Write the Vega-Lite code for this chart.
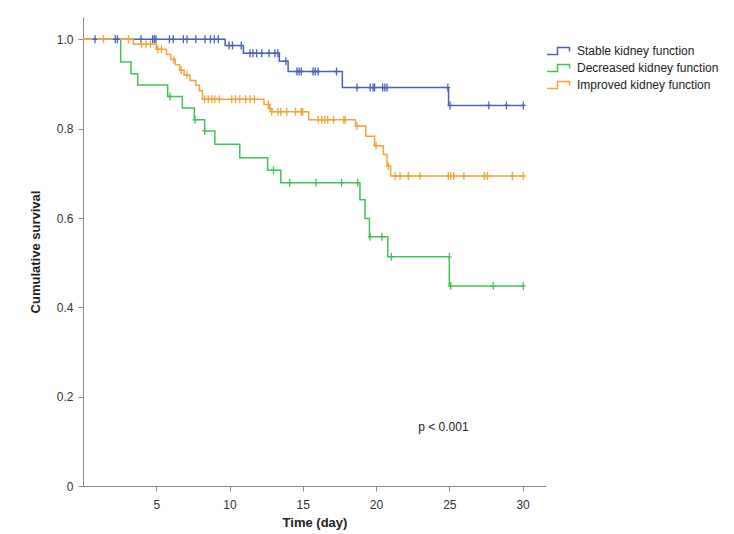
{
  "$schema": "https://vega.github.io/schema/vega-lite/v6.json",
  "width": 463,
  "height": 469,
  "autosize": {"type": "none"},
  "padding": {"left": 83, "top": 17, "right": 188, "bottom": 48},
  "background": "white",
  "config": {
    "view": {"stroke": null},
    "font": "Liberation Sans",
    "axis": {
      "grid": false,
      "domainColor": "#8a8a8a",
      "tickColor": "#8a8a8a",
      "tickSize": 5,
      "labelColor": "#333333",
      "labelFontSize": 12,
      "labelFont": "Liberation Sans",
      "titleFont": "Liberation Sans",
      "titleFontSize": 13,
      "titleFontWeight": "bold",
      "titleColor": "#222222"
    }
  },
  "datasets": {
    "curves": [
      {"g": "Stable kidney function", "t": 0, "s": 1},
      {"g": "Stable kidney function", "t": 9.7, "s": 0.986},
      {"g": "Stable kidney function", "t": 10.95, "s": 0.969},
      {"g": "Stable kidney function", "t": 13.4, "s": 0.951},
      {"g": "Stable kidney function", "t": 14.0, "s": 0.928},
      {"g": "Stable kidney function", "t": 17.7, "s": 0.892},
      {"g": "Stable kidney function", "t": 24.95, "s": 0.852},
      {"g": "Stable kidney function", "t": 30.05, "s": 0.852},
      {"g": "Decreased kidney function", "t": 0, "s": 1},
      {"g": "Decreased kidney function", "t": 2.57, "s": 0.949},
      {"g": "Decreased kidney function", "t": 3.28, "s": 0.923},
      {"g": "Decreased kidney function", "t": 3.73, "s": 0.898},
      {"g": "Decreased kidney function", "t": 5.78, "s": 0.872},
      {"g": "Decreased kidney function", "t": 6.78, "s": 0.846},
      {"g": "Decreased kidney function", "t": 7.6, "s": 0.82},
      {"g": "Decreased kidney function", "t": 8.3, "s": 0.795},
      {"g": "Decreased kidney function", "t": 9.0, "s": 0.765},
      {"g": "Decreased kidney function", "t": 10.7, "s": 0.735},
      {"g": "Decreased kidney function", "t": 12.6, "s": 0.707},
      {"g": "Decreased kidney function", "t": 13.5, "s": 0.679},
      {"g": "Decreased kidney function", "t": 18.9, "s": 0.641},
      {"g": "Decreased kidney function", "t": 19.25, "s": 0.599},
      {"g": "Decreased kidney function", "t": 19.55, "s": 0.558},
      {"g": "Decreased kidney function", "t": 20.8, "s": 0.513},
      {"g": "Decreased kidney function", "t": 25.0, "s": 0.448},
      {"g": "Decreased kidney function", "t": 30.05, "s": 0.448},
      {"g": "Improved kidney function", "t": 0, "s": 1},
      {"g": "Improved kidney function", "t": 3.45, "s": 0.989},
      {"g": "Improved kidney function", "t": 5.0, "s": 0.978},
      {"g": "Improved kidney function", "t": 5.7, "s": 0.966},
      {"g": "Improved kidney function", "t": 6.0, "s": 0.955},
      {"g": "Improved kidney function", "t": 6.3, "s": 0.943},
      {"g": "Improved kidney function", "t": 6.6, "s": 0.931},
      {"g": "Improved kidney function", "t": 6.9, "s": 0.92},
      {"g": "Improved kidney function", "t": 7.3, "s": 0.908},
      {"g": "Improved kidney function", "t": 7.7, "s": 0.897},
      {"g": "Improved kidney function", "t": 7.95, "s": 0.885},
      {"g": "Improved kidney function", "t": 8.15, "s": 0.866},
      {"g": "Improved kidney function", "t": 12.35, "s": 0.854},
      {"g": "Improved kidney function", "t": 12.7, "s": 0.845},
      {"g": "Improved kidney function", "t": 12.9, "s": 0.838},
      {"g": "Improved kidney function", "t": 15.4, "s": 0.82},
      {"g": "Improved kidney function", "t": 18.6, "s": 0.806},
      {"g": "Improved kidney function", "t": 19.3, "s": 0.783},
      {"g": "Improved kidney function", "t": 19.9, "s": 0.762},
      {"g": "Improved kidney function", "t": 20.5, "s": 0.742},
      {"g": "Improved kidney function", "t": 20.75, "s": 0.716},
      {"g": "Improved kidney function", "t": 21.0, "s": 0.694},
      {"g": "Improved kidney function", "t": 30.05, "s": 0.694}
    ],
    "censor": [
      {"g": "Stable kidney function", "t": 0.82, "s": 1},
      {"g": "Stable kidney function", "t": 2.2, "s": 1},
      {"g": "Stable kidney function", "t": 2.35, "s": 1},
      {"g": "Stable kidney function", "t": 3.96, "s": 1},
      {"g": "Stable kidney function", "t": 4.75, "s": 1},
      {"g": "Stable kidney function", "t": 4.87, "s": 1},
      {"g": "Stable kidney function", "t": 4.98, "s": 1},
      {"g": "Stable kidney function", "t": 5.9, "s": 1},
      {"g": "Stable kidney function", "t": 6.16, "s": 1},
      {"g": "Stable kidney function", "t": 6.85, "s": 1},
      {"g": "Stable kidney function", "t": 7.1, "s": 1},
      {"g": "Stable kidney function", "t": 7.7, "s": 1},
      {"g": "Stable kidney function", "t": 8.33, "s": 1},
      {"g": "Stable kidney function", "t": 8.7, "s": 1},
      {"g": "Stable kidney function", "t": 8.96, "s": 1},
      {"g": "Stable kidney function", "t": 9.23, "s": 1},
      {"g": "Stable kidney function", "t": 9.97, "s": 0.986},
      {"g": "Stable kidney function", "t": 10.2, "s": 0.986},
      {"g": "Stable kidney function", "t": 10.8, "s": 0.986},
      {"g": "Stable kidney function", "t": 11.4, "s": 0.969},
      {"g": "Stable kidney function", "t": 11.6, "s": 0.969},
      {"g": "Stable kidney function", "t": 11.85, "s": 0.969},
      {"g": "Stable kidney function", "t": 12.2, "s": 0.969},
      {"g": "Stable kidney function", "t": 12.7, "s": 0.969},
      {"g": "Stable kidney function", "t": 13.1, "s": 0.969},
      {"g": "Stable kidney function", "t": 13.3, "s": 0.969},
      {"g": "Stable kidney function", "t": 13.85, "s": 0.951},
      {"g": "Stable kidney function", "t": 14.6, "s": 0.928},
      {"g": "Stable kidney function", "t": 14.75, "s": 0.928},
      {"g": "Stable kidney function", "t": 14.9, "s": 0.928},
      {"g": "Stable kidney function", "t": 15.7, "s": 0.928},
      {"g": "Stable kidney function", "t": 15.85, "s": 0.928},
      {"g": "Stable kidney function", "t": 16.05, "s": 0.928},
      {"g": "Stable kidney function", "t": 17.3, "s": 0.928},
      {"g": "Stable kidney function", "t": 18.7, "s": 0.892},
      {"g": "Stable kidney function", "t": 19.6, "s": 0.892},
      {"g": "Stable kidney function", "t": 19.8, "s": 0.892},
      {"g": "Stable kidney function", "t": 19.9, "s": 0.892},
      {"g": "Stable kidney function", "t": 20.45, "s": 0.892},
      {"g": "Stable kidney function", "t": 20.6, "s": 0.892},
      {"g": "Stable kidney function", "t": 20.75, "s": 0.892},
      {"g": "Stable kidney function", "t": 24.9, "s": 0.892},
      {"g": "Stable kidney function", "t": 25.05, "s": 0.852},
      {"g": "Stable kidney function", "t": 27.7, "s": 0.852},
      {"g": "Stable kidney function", "t": 28.9, "s": 0.852},
      {"g": "Stable kidney function", "t": 30.05, "s": 0.852},
      {"g": "Decreased kidney function", "t": 5.94, "s": 0.872},
      {"g": "Decreased kidney function", "t": 7.65, "s": 0.82},
      {"g": "Decreased kidney function", "t": 8.3, "s": 0.795},
      {"g": "Decreased kidney function", "t": 13.0, "s": 0.707},
      {"g": "Decreased kidney function", "t": 14.1, "s": 0.679},
      {"g": "Decreased kidney function", "t": 15.9, "s": 0.679},
      {"g": "Decreased kidney function", "t": 17.65, "s": 0.679},
      {"g": "Decreased kidney function", "t": 18.75, "s": 0.679},
      {"g": "Decreased kidney function", "t": 19.6, "s": 0.558},
      {"g": "Decreased kidney function", "t": 20.4, "s": 0.558},
      {"g": "Decreased kidney function", "t": 21.05, "s": 0.513},
      {"g": "Decreased kidney function", "t": 25.0, "s": 0.513},
      {"g": "Decreased kidney function", "t": 25.1, "s": 0.448},
      {"g": "Decreased kidney function", "t": 28.0, "s": 0.448},
      {"g": "Decreased kidney function", "t": 30.05, "s": 0.448},
      {"g": "Improved kidney function", "t": 1.4, "s": 1},
      {"g": "Improved kidney function", "t": 3.1, "s": 1},
      {"g": "Improved kidney function", "t": 4.0, "s": 0.989},
      {"g": "Improved kidney function", "t": 4.3, "s": 0.989},
      {"g": "Improved kidney function", "t": 4.6, "s": 0.989},
      {"g": "Improved kidney function", "t": 5.1, "s": 0.978},
      {"g": "Improved kidney function", "t": 5.35, "s": 0.978},
      {"g": "Improved kidney function", "t": 6.2, "s": 0.955},
      {"g": "Improved kidney function", "t": 6.7, "s": 0.931},
      {"g": "Improved kidney function", "t": 7.1, "s": 0.92},
      {"g": "Improved kidney function", "t": 8.3, "s": 0.866},
      {"g": "Improved kidney function", "t": 8.55, "s": 0.866},
      {"g": "Improved kidney function", "t": 8.8, "s": 0.866},
      {"g": "Improved kidney function", "t": 9.0, "s": 0.866},
      {"g": "Improved kidney function", "t": 9.3, "s": 0.866},
      {"g": "Improved kidney function", "t": 10.15, "s": 0.866},
      {"g": "Improved kidney function", "t": 10.4, "s": 0.866},
      {"g": "Improved kidney function", "t": 10.7, "s": 0.866},
      {"g": "Improved kidney function", "t": 11.1, "s": 0.866},
      {"g": "Improved kidney function", "t": 11.4, "s": 0.866},
      {"g": "Improved kidney function", "t": 11.7, "s": 0.866},
      {"g": "Improved kidney function", "t": 12.65, "s": 0.854},
      {"g": "Improved kidney function", "t": 12.76, "s": 0.845},
      {"g": "Improved kidney function", "t": 12.88, "s": 0.838},
      {"g": "Improved kidney function", "t": 13.3, "s": 0.838},
      {"g": "Improved kidney function", "t": 13.5, "s": 0.838},
      {"g": "Improved kidney function", "t": 13.9, "s": 0.838},
      {"g": "Improved kidney function", "t": 14.5, "s": 0.838},
      {"g": "Improved kidney function", "t": 14.9, "s": 0.838},
      {"g": "Improved kidney function", "t": 15.0, "s": 0.838},
      {"g": "Improved kidney function", "t": 16.05, "s": 0.82},
      {"g": "Improved kidney function", "t": 16.3, "s": 0.82},
      {"g": "Improved kidney function", "t": 16.5, "s": 0.82},
      {"g": "Improved kidney function", "t": 16.7, "s": 0.82},
      {"g": "Improved kidney function", "t": 17.1, "s": 0.82},
      {"g": "Improved kidney function", "t": 17.8, "s": 0.82},
      {"g": "Improved kidney function", "t": 17.9, "s": 0.82},
      {"g": "Improved kidney function", "t": 18.7, "s": 0.806},
      {"g": "Improved kidney function", "t": 20.0, "s": 0.762},
      {"g": "Improved kidney function", "t": 20.85, "s": 0.716},
      {"g": "Improved kidney function", "t": 21.3, "s": 0.694},
      {"g": "Improved kidney function", "t": 21.64, "s": 0.694},
      {"g": "Improved kidney function", "t": 22.2, "s": 0.694},
      {"g": "Improved kidney function", "t": 23.0, "s": 0.694},
      {"g": "Improved kidney function", "t": 24.93, "s": 0.694},
      {"g": "Improved kidney function", "t": 25.1, "s": 0.694},
      {"g": "Improved kidney function", "t": 25.3, "s": 0.694},
      {"g": "Improved kidney function", "t": 26.0, "s": 0.694},
      {"g": "Improved kidney function", "t": 27.4, "s": 0.694},
      {"g": "Improved kidney function", "t": 27.6, "s": 0.694},
      {"g": "Improved kidney function", "t": 29.3, "s": 0.694},
      {"g": "Improved kidney function", "t": 30.05, "s": 0.694}
    ],
    "note": [{"t": 24.6, "s": 0.132, "label": "p < 0.001"}]
  },
  "layer": [
    {
      "data": {"name": "curves"},
      "mark": {"type": "line", "interpolate": "step-after", "strokeWidth": 1.5},
      "encoding": {
        "x": {
          "field": "t", "type": "quantitative",
          "scale": {"domain": [0, 31.6], "nice": false, "zero": false},
          "axis": {"values": [5, 10, 15, 20, 25, 30], "title": "Time (day)", "labelPadding": 8, "titlePadding": 6, "labelFlush": false}
        },
        "y": {
          "field": "s", "type": "quantitative",
          "scale": {"domain": [0, 1.05], "nice": false},
          "axis": {"values": [0, 0.2, 0.4, 0.6, 0.8, 1.0], "title": "Cumulative survival", "labelExpr": "datum.value == 0 ? '0' : format(datum.value, '.1f')", "labelPadding": 5, "titlePadding": 14, "labelFlush": false}
        },
        "color": {
          "field": "g", "type": "nominal",
          "scale": {
            "domain": ["Stable kidney function", "Decreased kidney function", "Improved kidney function"],
            "range": ["#4a62b5", "#46c15a", "#f7a23a"]
          },
          "legend": {
            "title": null,
            "orient": "none",
            "legendX": 470,
            "legendY": 28,
            "symbolType": "M-2.4,0.7H-0.3V-0.7H2.1V0.1",
            "symbolSize": 100,
            "symbolStrokeWidth": 1.5,
            "symbolFillColor": "transparent",
            "labelFontSize": 12,
            "labelFont": "Liberation Sans",
            "labelColor": "#222222",
            "labelOffset": 12,
            "rowPadding": 3
          }
        }
      }
    },
    {
      "data": {"name": "censor"},
      "mark": {"type": "point", "shape": "M0,-1V1M-0.6,0H0.6", "size": 64, "strokeWidth": 1.3, "filled": false, "opacity": 1},
      "encoding": {
        "x": {"field": "t", "type": "quantitative"},
        "y": {"field": "s", "type": "quantitative"},
        "color": {"field": "g", "type": "nominal"}
      }
    },
    {
      "data": {"name": "note"},
      "mark": {"type": "text", "fontSize": 12, "font": "Liberation Sans", "color": "#222222"},
      "encoding": {
        "x": {"field": "t", "type": "quantitative"},
        "y": {"field": "s", "type": "quantitative"},
        "text": {"field": "label"}
      }
    }
  ]
}
